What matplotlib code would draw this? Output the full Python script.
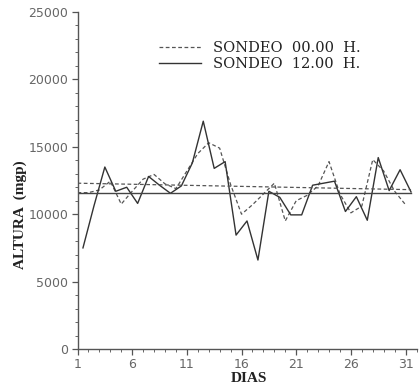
import matplotlib
matplotlib.use("Agg")
import matplotlib.pyplot as plt
from matplotlib.ticker import MultipleLocator

# datos
dias = list(range(1, 32))
sondeo_00 = [11600, 11600, 11800, 12450, 10750, 11700, 12600, 12950, 12250, 11900,
             13200, 14500, 15300, 14900, 12200, 10000, 10700, 11500, 12300, 9500,
             11000, 11400, 12100, 13900, 11500, 10100, 10600, 14050, 13200, 11700,
             10700]
sondeo_12 = [7500, 10600, 13500, 11700, 12000, 10800, 12800, 12150, 11550, 12100,
             13800, 16900, 13400, 13900, 8450, 9500, 6600, 11700, 11250, 9950,
             9950, 12150, 12300, 12450, 10200, 11300, 9550, 14200, 11750, 13300,
             11650]
# rectas de tendencia (extremos)
tend_x = [1, 31.5]
tend_00 = [12300, 11820]
tend_12 = [11600, 11600]

x_12 = [d + 0.5 for d in dias]  # el sondeo de las 12 h va a medio dia

fig = plt.figure(figsize=(4.2, 3.91), dpi=100)
ax = fig.add_axes([77.5 / 420, 42 / 391, 339 / 420, 337 / 391])

ax.plot(dias, sondeo_00, color="#555555", lw=0.9, ls=(0, (3, 2)), label="SONDEO  00.00  H.")
ax.plot(x_12, sondeo_12, color="#333333", lw=1.0, label="SONDEO  12.00  H.")
ax.plot(tend_x, tend_00, color="#555555", lw=0.9, ls=(0, (3, 2)))
ax.plot(tend_x, tend_12, color="#444444", lw=1.0)

ax.set_xlim(1, 32)
ax.set_ylim(0, 25000)
ax.set_xticks([1, 6, 11, 16, 21, 26, 31])
ax.xaxis.set_minor_locator(MultipleLocator(1))
ax.set_yticks([0, 5000, 10000, 15000, 20000, 25000])
ax.yaxis.set_minor_locator(MultipleLocator(1000))

for s in ["top", "right"]:
    ax.spines[s].set_visible(False)
for s in ["left", "bottom"]:
    ax.spines[s].set_color("#555555")
    ax.spines[s].set_linewidth(1.0)

ax.tick_params(which="major", direction="out", length=4.5, width=0.9,
               color="#555555", labelcolor="#666666", labelsize=9, pad=2)
ax.tick_params(which="minor", direction="out", length=2.5, width=0.7, color="#666666")

ax.set_xlabel("DIAS", family="Liberation Serif", fontweight="bold", fontsize=11, color="#222222")
ax.set_ylabel("ALTURA  (mgp)", family="Liberation Serif", fontweight="bold", fontsize=11, color="#222222")
ax.xaxis.set_label_coords(0.506, -0.068)
ax.yaxis.set_label_coords(-0.15, 0.40)

leg = ax.legend(loc="upper left", bbox_to_anchor=(0.21, 0.943), frameon=False,
                prop={"family": "DejaVu Serif", "size": 10.5}, handlelength=2.9,
                handletextpad=0.8, labelspacing=0.1, borderpad=0.2)
for t in leg.get_texts():
    t.set_color("#222222")

plt.savefig("out.png", dpi=100, facecolor="white")
